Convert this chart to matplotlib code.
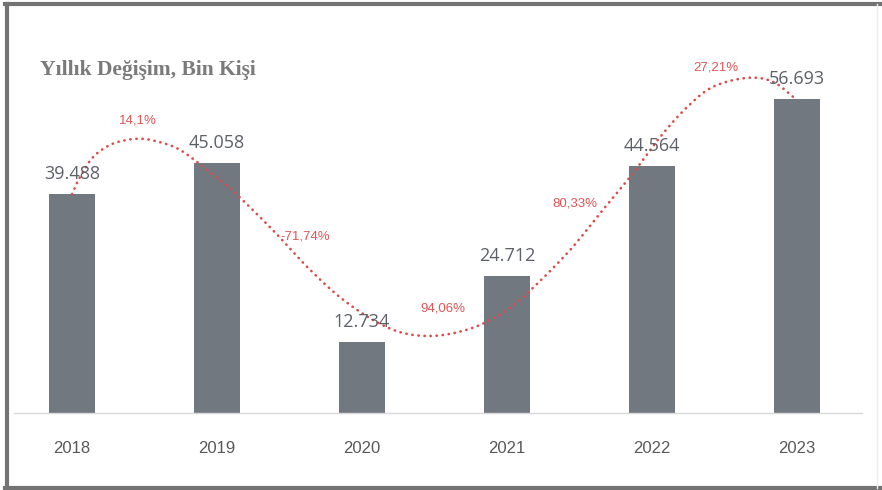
import numpy as np
import matplotlib
matplotlib.use("Agg")
import matplotlib.pyplot as plt
from matplotlib.lines import Line2D

# ---- data ----
years = ["2018", "2019", "2020", "2021", "2022", "2023"]
values = [39.488, 45.058, 12.734, 24.712, 44.564, 56.693]
value_labels = ["39.488", "45.058", "12.734", "24.712", "44.564", "56.693"]
pct_labels = ["14,1%", "-71,74%", "94,06%", "80,33%", "27,21%"]
# label anchor positions (category units, value units)
pct_x = [0.455, 1.607, 2.559, 3.469, 4.441]
pct_y = [52.9, 31.8, 18.95, 37.9, 62.3]
# knots of the smoothed dotted trend curve (category units, value units)
curve_x = [0.0, 0.055, 0.145, 0.262, 0.379, 0.490, 0.607, 0.724, 0.834,
           1.021, 1.138, 1.386, 1.621, 1.848, 2.076, 2.262, 2.448, 2.628,
           2.814, 3.0, 3.179, 3.434, 3.662, 3.869, 4.055, 4.241, 4.421, 4.655,
           4.834, 5.0]
curve_y = [39.5, 42.6, 46.2, 48.4, 49.3, 49.5, 48.9, 47.8, 45.9,
           42.0, 39.4, 33.0, 26.4, 20.9, 16.8, 14.6, 13.9, 14.4,
           15.9, 18.6, 22.6, 29.4, 36.7, 43.3, 49.8, 55.2, 58.9, 60.5,
           59.8, 56.5]

W, H = 882, 490
fig = plt.figure(figsize=(W / 100, H / 100), dpi=100)
fig.patch.set_facecolor("white")

# axes placement (pixels)
ax_l, ax_r, ax_b, ax_t = 14, 862, 413, 40
ax = fig.add_axes([ax_l / W, 1 - ax_b / H, (ax_r - ax_l) / W, (ax_b - ax_t) / H])
px_per_cat = 145.0
x0 = (ax_l - 72) / px_per_cat
x1 = (ax_r - 72) / px_per_cat
px_per_val = (413 - 99) / 56.693
ax.set_xlim(x0, x1)
ax.set_ylim(0, (ax_b - ax_t) / px_per_val)

xs = np.arange(len(years))
bar_color = "#717880"
ax.bar(xs, values, width=46 / px_per_cat, color=bar_color, zorder=2)

for x, v, lab in zip(xs, values, value_labels):
    ax.text(x, v + 20 / px_per_val, lab, ha="center", va="center",
            fontsize=13, color="#5d6167", family=["Open Sans", "DejaVu Sans"], zorder=4)

# Catmull-Rom smoothing through knots
def catmull(xk, yk, n=30):
    P = np.column_stack([xk, yk])
    P = np.vstack([P[0] * 2 - P[1], P, P[-1] * 2 - P[-2]])
    out = []
    for i in range(1, len(P) - 2):
        p0, p1, p2, p3 = P[i - 1], P[i], P[i + 1], P[i + 2]
        t = np.linspace(0, 1, n, endpoint=False)[:, None]
        pts = 0.5 * ((2 * p1) + (-p0 + p2) * t + (2 * p0 - 5 * p1 + 4 * p2 - p3) * t ** 2
                     + (-p0 + 3 * p1 - 3 * p2 + p3) * t ** 3)
        out.append(pts)
    out.append(P[-2][None, :])
    return np.vstack(out)

cur = catmull(curve_x, curve_y)
red = "#dc4a4a"
ax.plot(cur[:, 0], cur[:, 1], color=red, lw=1.9, linestyle=(0, (0.1, 2.2)),
        dash_capstyle="round", zorder=3)

for x, y, lab in zip(pct_x, pct_y, pct_labels):
    ax.text(x, y, lab, ha="center", va="center", fontsize=9.5, color="#e05555",
            family=["Liberation Sans", "DejaVu Sans"], zorder=5)

ax.set_xticks(xs)
ax.set_xticklabels(years, fontsize=12, color="#595959",
                   family=["Liberation Sans Narrow", "Liberation Sans", "DejaVu Sans"])
ax.tick_params(axis="x", length=0, pad=20)
ax.set_yticks([])
for s in ["top", "right", "left"]:
    ax.spines[s].set_visible(False)
ax.spines["bottom"].set_color("#d9d9d9")
ax.spines["bottom"].set_linewidth(1.0)
ax.set_facecolor("none")

# title
fig.text(40 / W, 1 - 70 / H, "Yıllık Değişim, Bin Kişi", ha="left", va="center",
         fontsize=15.5, fontweight="bold", color="#7a7a7a",
         family=["Liberation Serif", "DejaVu Serif"])

# frame
frame_c = "#737373"
fig.add_artist(Line2D([7 / W, 7 / W], [1 - 4 / H, 1 - 488 / H], color=frame_c, lw=3.0,
                      transform=fig.transFigure))
fig.add_artist(Line2D([5 / W, 882 / W], [1 - 4 / H, 1 - 4 / H], color=frame_c, lw=3.0,
                      transform=fig.transFigure))
fig.add_artist(Line2D([5 / W, 882 / W], [1 - 488 / H, 1 - 488 / H], color=frame_c, lw=3.0,
                      transform=fig.transFigure))
fig.add_artist(Line2D([877 / W, 877 / W], [1 - 4 / H, 1 - 488 / H], color="#eeeeee", lw=1.0,
                      transform=fig.transFigure))

fig.savefig("out.png", dpi=100, facecolor="white")
